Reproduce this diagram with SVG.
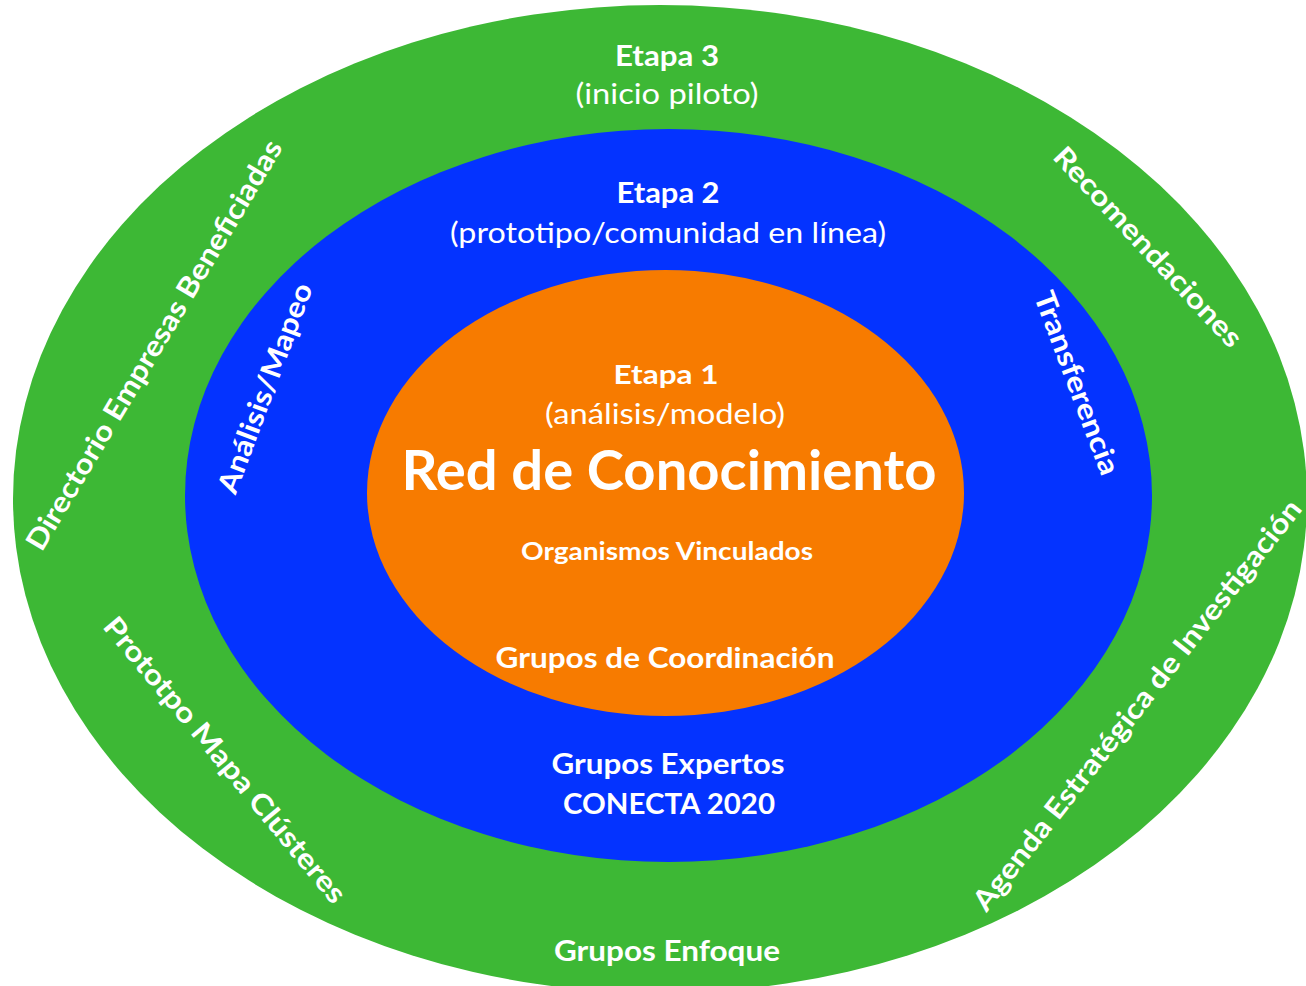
<svg xmlns="http://www.w3.org/2000/svg" width="1306" height="986" viewBox="0 0 1306 986">
<style>
text{font-family:Lato,"Open Sans","Liberation Sans",sans-serif;fill:#ffffff;text-anchor:middle}
.b{font-weight:700}
.r{font-weight:400}
</style>
<rect width="1306" height="986" fill="#ffffff"/>
<g id="ring3">
<ellipse cx="660" cy="499" rx="647" ry="494" fill="#3db835"/>
<text class="b" x="667" y="66" font-size="28.5" textLength="104" lengthAdjust="spacingAndGlyphs">Etapa 3</text>
<text class="r" x="667" y="104" font-size="28.5" textLength="183" lengthAdjust="spacingAndGlyphs">(inicio piloto)</text>
<text class="b" x="154" y="345" dy="0.35em" font-size="28.5" textLength="472" lengthAdjust="spacingAndGlyphs" transform="rotate(-59.2 154 345)">Directorio Empresas Beneficiadas</text>
<text class="b" x="1148" y="247" dy="0.35em" font-size="28" textLength="262" lengthAdjust="spacingAndGlyphs" transform="rotate(47 1148 247)">Recomendaciones</text>
<text class="b" x="225" y="760" dy="0.35em" font-size="28.5" textLength="362" lengthAdjust="spacingAndGlyphs" transform="rotate(50.3 225 760)">Prototpo Mapa Clústeres</text>
<text class="b" x="1137" y="705" dy="0.35em" font-size="28.5" textLength="513" lengthAdjust="spacingAndGlyphs" transform="rotate(-51.9 1137 705)">Agenda Estratégica de Investigación</text>
<text class="b" x="667" y="961" font-size="28.5" textLength="226" lengthAdjust="spacingAndGlyphs">Grupos Enfoque</text>
</g>
<g id="ring2">
<ellipse cx="668.5" cy="495.5" rx="483.5" ry="366.5" fill="#0433ff"/>
<text class="b" x="668" y="203" font-size="28.5" textLength="103" lengthAdjust="spacingAndGlyphs">Etapa 2</text>
<text class="r" x="668" y="243" font-size="28.5" textLength="436" lengthAdjust="spacingAndGlyphs">(prototipo/comunidad en línea)</text>
<text class="b" x="265" y="388" dy="0.35em" font-size="28.5" textLength="222" lengthAdjust="spacingAndGlyphs" transform="rotate(-69.5 265 388)">Análisis/Mapeo</text>
<text class="b" x="1077" y="383" dy="0.35em" font-size="28.5" textLength="194" lengthAdjust="spacingAndGlyphs" transform="rotate(69.4 1077 383)">Transferencia</text>
<text class="b" x="668" y="774" font-size="28.5" textLength="233" lengthAdjust="spacingAndGlyphs">Grupos Expertos</text>
<text class="b" x="669" y="814" font-size="28.5" textLength="212" lengthAdjust="spacingAndGlyphs">CONECTA 2020</text>
</g>
<g id="ring1">
<ellipse cx="665.5" cy="493" rx="298.5" ry="223" fill="#f77b00"/>
<text class="b" x="666" y="384" font-size="27.5" textLength="105" lengthAdjust="spacingAndGlyphs">Etapa 1</text>
<text class="r" x="665" y="424" font-size="28.5" textLength="240" lengthAdjust="spacingAndGlyphs">(análisis/modelo)</text>
<text class="b" x="669" y="490" font-size="56" textLength="535" lengthAdjust="spacingAndGlyphs">Red de Conocimiento</text>
<text class="b" x="667" y="560" font-size="24.5" textLength="292" lengthAdjust="spacingAndGlyphs">Organismos Vinculados</text>
<text class="b" x="665" y="668" font-size="28.5" textLength="339" lengthAdjust="spacingAndGlyphs">Grupos de Coordinación</text>
</g>
<g id="connectors"/>
</svg>
